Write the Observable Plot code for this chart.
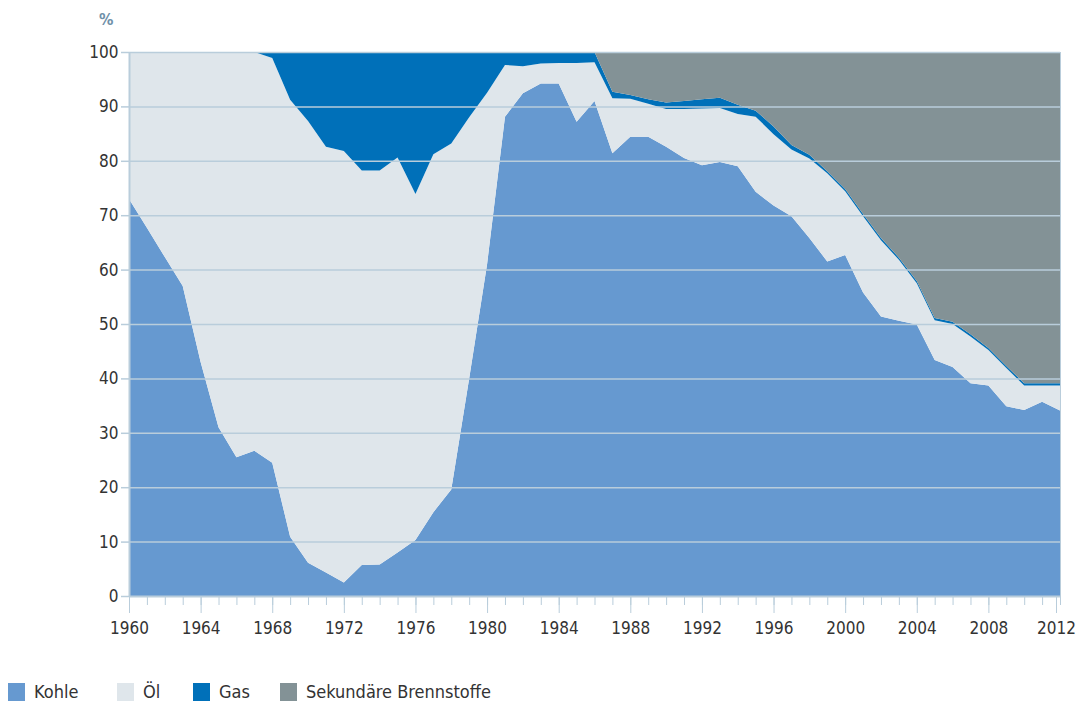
<!DOCTYPE html>
<html>
<head>
<meta charset="utf-8">
<script src="https://cdn.jsdelivr.net/npm/d3@7"></script>
<script src="https://cdn.jsdelivr.net/npm/@observablehq/plot@0.6"></script>
<style>
  html, body { margin: 0; padding: 0; background: #fff; }
  body { width: 1077px; height: 702px; position: relative; overflow: hidden;
         font-family: "DejaVu Sans Condensed", "Liberation Sans Narrow", Roboto, sans-serif; }
  #chart { position: absolute; left: 0; top: 0; }
  #chart svg { overflow: visible; }
  #unit { position: absolute; left: 99px; top: 10px; font-size: 16px; font-weight: bold; color: #6f90a8; }
  .item { position: absolute; top: 683px; display: flex; align-items: center; font-size: 18px; color: #333; line-height: 18px; }
  .sw { width: 17px; height: 18px; margin-right: 9px; }
</style>
</head>
<body>
<div id="chart"></div>
<div id="unit">%</div>
<div id="legend"></div>
<script>
const years = d3.range(1960, 2013);
const seriesNames = ["Kohle", "Öl", "Gas", "Sekundäre Brennstoffe"];
const seriesColors = ["#6699d0", "#dfe6eb", "#0070b9", "#839296"];
const kohle = [73, 67.7, 62.3, 57, 43, 31, 25.5, 26.7, 24.5, 10.9,
  6.1, 4.3, 2.5, 5.7, 5.8, 8.0, 10.3, 15.4, 19.6, 40,
  61, 88.1, 92.4, 94.2, 94.2, 87.2, 91.0, 81.4, 84.4, 84.4,
  82.6, 80.5, 79.2, 79.8, 79.0, 74.3, 71.8, 69.8, 65.8, 61.5,
  62.7, 55.8, 51.4, 50.6, 49.9, 43.4, 42.1, 39.1, 38.7, 34.9,
  34.2, 35.7, 34.1];
const oel = [27, 32.3, 37.7, 43, 57, 69, 74.5, 73.3, 74.4, 80.3,
  81.2, 78.3, 79.3, 72.5, 72.4, 72.6, 63.6, 65.8, 63.6, 48,
  31.5, 9.5, 5.0, 3.7, 3.8, 10.8, 7.1, 10.1, 7.0, 6.1,
  6.9, 9.0, 10.4, 9.9, 9.6, 13.8, 13.1, 12.3, 14.6, 16.2,
  11.7, 14.0, 14.0, 11.2, 7.6, 7.3, 7.9, 8.6, 6.5, 7.0,
  4.5, 3.0, 4.6];
const gas = [0, 0, 0, 0, 0, 0, 0, 0, 1.1, 8.8,
  12.7, 17.4, 18.2, 21.8, 21.8, 19.4, 26.1, 18.8, 16.8, 12,
  7.5, 2.4, 2.6, 2.1, 2.0, 2.0, 1.9, 1.2, 0.7, 0.8,
  1.2, 1.5, 1.7, 1.9, 1.7, 1.1, 1.4, 0.8, 0.7, 0.4,
  0.4, 0.4, 0.4, 0.4, 0.4, 0.4, 0.4, 0.4, 0.4, 0.4,
  0.4, 0.4, 0.4];
const sekundaer = [0, 0, 0, 0, 0, 0, 0, 0, 0, 0,
  0, 0, 0, 0, 0, 0, 0, 0, 0, 0,
  0, 0, 0, 0, 0, 0, 0, 7.3, 7.9, 8.7,
  9.3, 9.0, 8.7, 8.4, 9.7, 10.8, 13.7, 17.1, 18.9, 21.9,
  25.2, 29.8, 34.2, 37.8, 42.1, 48.9, 49.6, 51.9, 54.4, 57.7,
  60.9, 60.9, 60.9];
const yTicks = [0, 10, 20, 30, 40, 50, 60, 70, 80, 90, 100];
const xMajorTicks = d3.range(1960, 2013, 4);

const valuesBySeries = [kohle, oel, gas, sekundaer];
const data = [];
seriesNames.forEach((s, i) => {
  years.forEach((y, j) => data.push({year: y, series: s, value: valuesBySeries[i][j]}));
});

const gridColor = "#b9cddb";
const lastTick = xMajorTicks[xMajorTicks.length - 1];
const chart = Plot.plot({
  width: 1077,
  height: 650,
  marginLeft: 129,
  marginRight: 17,
  marginTop: 52,
  marginBottom: 54,
  style: {fontFamily: '"DejaVu Sans Condensed", "Liberation Sans Narrow", Roboto, sans-serif', fontSize: "16px", color: "#333", overflow: "visible"},
  x: {type: "linear", domain: [1960, 2012]},
  y: {domain: [0, 100]},
  color: {domain: seriesNames, range: seriesColors},
  marks: [
    Plot.areaY(data, {x: "year", y: "value", fill: "series", order: seriesNames}),
    Plot.ruleY(yTicks.filter(d => d > 0), {stroke: gridColor, strokeWidth: 1.5}),
    Plot.ruleY([0], {stroke: gridColor, strokeWidth: 2}),
    Plot.ruleX([1960], {stroke: gridColor, strokeWidth: 2}),
    Plot.ruleX([2012], {stroke: gridColor, strokeWidth: 1}),
    Plot.axisY({ticks: yTicks, tickSize: 8, tickPadding: 3, stroke: gridColor, fill: "#333", strokeWidth: 1.5, label: null, fontSize: 17}),
    Plot.axisX({ticks: years, tickSize: 9, tickFormat: () => "", stroke: gridColor, label: null}),
    Plot.axisX({ticks: xMajorTicks.slice(0, -1), tickSize: 17, tickPadding: 8, tickFormat: d => String(d), stroke: gridColor, fill: "#333", label: null, fontSize: 17}),
    Plot.axisX({ticks: [lastTick], tickSize: 17, tickPadding: 8, tickFormat: d => String(d), stroke: gridColor, fill: "#333", label: null, fontSize: 17, dx: -4})
  ]
});
document.getElementById("chart").appendChild(chart);

const legend = document.getElementById("legend");
const lefts = [8, 117, 193, 280];
seriesNames.forEach((s, i) => {
  const item = document.createElement("div");
  item.className = "item";
  item.style.left = lefts[i] + "px";
  const sw = document.createElement("div");
  sw.className = "sw";
  sw.style.background = seriesColors[i];
  const t = document.createElement("span");
  t.textContent = s;
  item.appendChild(sw);
  item.appendChild(t);
  legend.appendChild(item);
});
</script>
</body>
</html>
